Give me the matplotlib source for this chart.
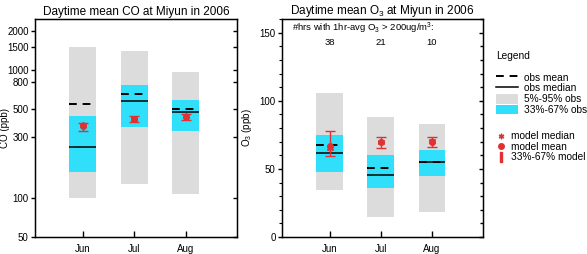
import matplotlib
matplotlib.use("Agg")
import matplotlib.pyplot as plt
from matplotlib.lines import Line2D
from matplotlib.patches import Patch
from matplotlib.ticker import MultipleLocator, NullLocator

plt.rcParams['font.family'] = ['Liberation Sans', 'DejaVu Sans']
plt.rcParams['mathtext.default'] = 'regular'

months = ['Jun', 'Jul', 'Aug']
xpos = [1, 2, 3]

# CO (ppb)
co_p05 = [100, 130, 109]
co_p95 = [1500, 1413, 960]
co_p33 = [160, 362, 333]
co_p67 = [438, 769, 583]
co_mean = [546, 647, 497]
co_median = [251, 573, 471]
co_mod_mean = [366, 415, 433]
co_mod_median = [370, 418, 436]
co_mod_lo = [336, 391, 406]
co_mod_hi = [388, 436, 454]

# O3 (ppb)
o3_p05 = [34.6, 14.5, 18.6]
o3_p95 = [106, 88, 83]
o3_p33 = [48, 36, 45]
o3_p67 = [74.8, 60, 64]
o3_mean = [67.6, 51, 55.4]
o3_median = [61.8, 45.3, 55.2]
o3_mod_mean = [67, 69.4, 70]
o3_mod_median = [65, 69.8, 70.3]
o3_mod_lo = [59.3, 65.2, 66.4]
o3_mod_hi = [78, 73.5, 73.3]
o3_hours = ['38', '21', '10']

co_ticks = [50, 100, 300, 500, 800, 1000, 1500, 2000]

gray = '#dcdcdc'
cyan = '#30e0fb'
red = '#e03232'
w = 0.52


def draw_panel(ax, p05, p95, p33, p67, mean, median, mmean, mmed, mlo, mhi):
    ax.bar(xpos, [b - a for a, b in zip(p05, p95)], bottom=p05, width=w, color=gray, zorder=1)
    ax.bar(xpos, [b - a for a, b in zip(p33, p67)], bottom=p33, width=w, color=cyan, zorder=2)
    left = [x - w / 2 for x in xpos]
    right = [x + w / 2 for x in xpos]
    ax.hlines(mean, left, right, colors='black', linestyles=(0, (4, 3)), linewidth=1.4, zorder=3)
    ax.hlines(median, left, right, colors='black', linewidth=1.1, zorder=3)
    err = [[m - l for m, l in zip(mmean, mlo)], [h - m for m, h in zip(mmean, mhi)]]
    ax.errorbar(xpos, mmean, yerr=err, fmt='o', color=red, ms=4, capsize=3.5,
                elinewidth=1.0, capthick=1.0, zorder=4)
    ax.plot(xpos, mmed, ls='none', marker=(6, 2, 0), color=red, ms=5, mew=1.0, zorder=5)
    ax.set_xlim(0.07, 4.0)
    ax.set_xticks(xpos, months)
    ax.tick_params(axis='x', direction='in', length=4, width=1, labelsize=7, pad=5)
    ax.tick_params(axis='y', direction='out', length=3, width=1, labelsize=7, pad=1.5)
    ax.tick_params(axis='y', which='minor', direction='out', length=2, width=0.8)
    for s in ax.spines.values():
        s.set_linewidth(1.0)


fig = plt.figure(figsize=(5.87, 2.54), dpi=100)
ax1 = fig.add_axes([35 / 587, 17 / 254, 202 / 587, 218 / 254])
ax2 = fig.add_axes([282 / 587, 17 / 254, 201 / 587, 218 / 254])

# CO panel
ax1.set_yscale('log')
draw_panel(ax1, co_p05, co_p95, co_p33, co_p67, co_mean, co_median,
           co_mod_mean, co_mod_median, co_mod_lo, co_mod_hi)
ax1.set_ylim(50, 2500)
ax1.set_yticks(co_ticks, [str(t) for t in co_ticks])
ax1.yaxis.set_minor_locator(NullLocator())
ax1.set_title('Daytime mean CO at Miyun in 2006', fontsize=8.5, pad=3)
ax1.set_ylabel('CO (ppb)', fontsize=7)
ax1.yaxis.set_label_coords(-0.125, 0.5)
tw1 = ax1.twinx()
tw1.set_yscale('log')
tw1.set_ylim(ax1.get_ylim())
tw1.set_yticks(co_ticks, [''] * len(co_ticks))
tw1.yaxis.set_minor_locator(NullLocator())
tw1.tick_params(axis='y', direction='in', length=3, width=1)

# O3 panel
draw_panel(ax2, o3_p05, o3_p95, o3_p33, o3_p67, o3_mean, o3_median,
           o3_mod_mean, o3_mod_median, o3_mod_lo, o3_mod_hi)
ax2.set_ylim(0, 160)
ax2.set_yticks([0, 50, 100, 150])
ax2.yaxis.set_minor_locator(MultipleLocator(10))
ax2.set_title('Daytime mean O$_3$ at Miyun in 2006', fontsize=8.5, pad=3)
ax2.set_ylabel('O$_3$ (ppb)', fontsize=7, labelpad=4)
tw2 = ax2.twinx()
tw2.set_ylim(ax2.get_ylim())
tw2.set_yticks([0, 50, 100, 150], [''] * 4)
tw2.yaxis.set_minor_locator(MultipleLocator(10))
tw2.tick_params(axis='y', which='both', direction='in', width=1)
tw2.tick_params(axis='y', which='major', length=3)
tw2.tick_params(axis='y', which='minor', length=2)

ax2.text(0.05, 0.955, '#hrs with 1hr-avg O$_3$ > 200ug/m$^3$:', transform=ax2.transAxes,
         fontsize=6.8, ha='left', va='center')
for x, n in zip(xpos, o3_hours):
    ax2.text(x, 0.89, n, transform=ax2.get_xaxis_transform(), fontsize=6.8,
             ha='center', va='center')

# legends
obs_handles = [
    Line2D([], [], color='black', ls=(0, (4, 3)), lw=1.4),
    Line2D([], [], color='black', lw=1.1),
    Patch(facecolor=gray, edgecolor='none'),
    Patch(facecolor=cyan, edgecolor='none'),
]
obs_labels = ['obs mean', 'obs median', '5%-95% obs', '33%-67% obs']
leg1 = fig.legend(obs_handles, obs_labels, loc='upper left', bbox_to_anchor=(489 / 587, 1 - 44 / 254),
                  frameon=False, fontsize=7.3, title='Legend', title_fontsize=7.3,
                  alignment='left', handlelength=2.2, handleheight=1.1, handletextpad=0.6,
                  labelspacing=0.05, borderpad=0.2)
leg1._legend_box.sep = 8

mod_handles = [
    Line2D([], [], ls='none', marker=(6, 2, 0), color=red, ms=4, mew=1.0),
    Line2D([], [], ls='none', marker='o', color=red, ms=4),
    Line2D([], [], ls='none', marker='$I$', color=red, ms=7),
]
mod_labels = ['model median', 'model mean', '33%-67% model']
fig.legend(mod_handles, mod_labels, loc='upper left', bbox_to_anchor=(489 / 587, 1 - 124 / 254),
           frameon=False, fontsize=7.3, handlelength=1.0, handletextpad=0.5,
           labelspacing=0.05, borderpad=0.2)

fig.savefig('out.png', dpi=100)
